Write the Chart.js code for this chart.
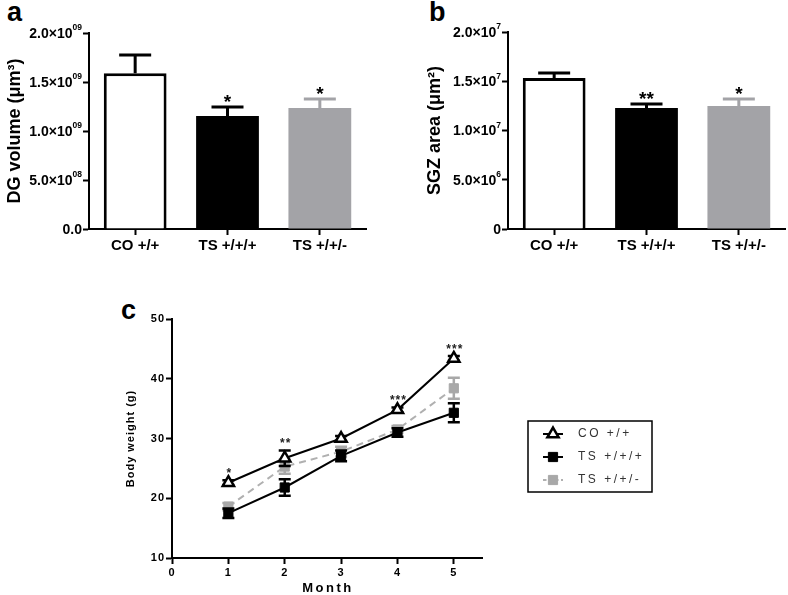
<!DOCTYPE html>
<html><head><meta charset="utf-8">
<script src="https://cdn.jsdelivr.net/npm/chart.js@4/dist/chart.umd.min.js"></script>
<style>
body{margin:0;background:#fff;width:788px;height:595px;position:relative;overflow:hidden;font-family:"Liberation Sans",Arial,sans-serif}
canvas{position:absolute}
.lab{position:absolute;font-family:"Liberation Sans Narrow","Liberation Sans",sans-serif;font-weight:bold;font-size:27px;line-height:27px;color:#000}
</style></head><body>
<div class="lab" style="left:7px;top:-1px">a</div>
<div class="lab" style="left:429px;top:-1px">b</div>
<div class="lab" style="left:121px;top:297px">c</div>
<canvas id="ca" style="left:0;top:0" width="380" height="255"></canvas>
<canvas id="cb" style="left:420px;top:0" width="368" height="255"></canvas>
<canvas id="cc" style="left:120px;top:290px" width="668" height="305"></canvas>
<script>
// ---------- data ----------
const barCategories = ['CO +/+', 'TS +/+/+', 'TS +/+/-'];
const dgVolume = [1.59e9, 1.153e9, 1.235e9];
const dgVolumeSem = [0.186e9, 0.092e9, 0.092e9];
const dgStars = ['', '*', '*'];
const dgTickLabels = ['0.0', '5.0×10⁰⁸', '1.0×10⁰⁹', '1.5×10⁰⁹', '2.0×10⁰⁹'];
const sgzArea = [1.533e7, 1.228e7, 1.249e7];
const sgzAreaSem = [0.051e7, 0.041e7, 0.071e7];
const sgzStars = ['', '**', '*'];
const sgzTickLabels = ['0', '5.0×10⁶', '1.0×10⁷', '1.5×10⁷', '2.0×10⁷'];

const months = [1, 2, 3, 4, 5];
const monthTicks = [0, 1, 2, 3, 4, 5];
const seriesNames = ['CO +/+', 'TS +/+/+', 'TS +/+/-'];
const coWeight = [22.6, 26.7, 30.0, 34.8, 43.4];
const coSem = [0.4, 1.3, 0.4, 0.4, 0.4];
const tsPPPWeight = [17.5, 21.8, 27.1, 31.0, 34.3];
const tsPPPSem = [0.8, 1.4, 0.9, 0.7, 1.6];
const tsPPMWeight = [18.6, 25.3, 27.8, 31.5, 38.4];
const tsPPMSem = [0.6, 1.2, 0.8, 0.6, 1.75];
const weightStars = ['*', '**', '', '***', '***'];

// ---------- styles ----------
const FONT = '"Liberation Sans", Arial, sans-serif';
const GREY = '#a3a3a7';
const barFill = ['#ffffff', '#000000', GREY];
const barLine = ['#000000', '#000000', GREY];
const SUP = '⁰¹²³⁴⁵⁶⁷⁸⁹';

const barErrorPlugin = {
  id: 'barErr',
  afterDatasetsDraw(chart, args, opts) {
    const meta = chart.getDatasetMeta(0);
    const ys = chart.scales.y, ctx = chart.ctx;
    const vals = chart.data.datasets[0].data;
    meta.data.forEach((bar, i) => {
      const v = vals[i], e = opts.sem[i];
      const yTop = ys.getPixelForValue(v + e), yBar = ys.getPixelForValue(v);
      ctx.save();
      ctx.strokeStyle = barLine[i];
      ctx.lineWidth = 3;
      ctx.beginPath();
      ctx.moveTo(bar.x, yBar); ctx.lineTo(bar.x, yTop);
      ctx.moveTo(bar.x - 16, yTop); ctx.lineTo(bar.x + 16, yTop);
      ctx.stroke();
      if (opts.stars[i]) {
        ctx.fillStyle = '#000';
        ctx.font = 'bold 19px ' + FONT;
        ctx.textAlign = 'center';
        ctx.textBaseline = 'alphabetic';
        ctx.fillText(opts.stars[i], bar.x, yTop + 1);
      }
      ctx.restore();
    });
  },
  afterDraw(chart, args, opts) {
    // y tick labels with real superscript exponents
    const ys = chart.scales.y, ctx = chart.ctx;
    const xr = ys.right - 7;
    ctx.save();
    ctx.fillStyle = '#000';
    ctx.textBaseline = 'middle';
    ys.ticks.forEach((t, i) => {
      const label = opts.tickLabels[i];
      const y = ys.getPixelForValue(t.value);
      let base = '', exp = '';
      for (const ch of label) {
        const k = SUP.indexOf(ch);
        if (k >= 0) exp += String(k); else base += ch;
      }
      ctx.font = 'bold 8.5px ' + FONT;
      const ew = exp ? ctx.measureText(exp).width : 0;
      if (exp) { ctx.textAlign = 'left'; ctx.fillText(exp, xr - ew, y - 5); }
      ctx.font = 'bold 14px ' + FONT;
      ctx.textAlign = 'right';
      ctx.fillText(base, xr - ew, y + 1);
    });
    ctx.restore();
  }
};

function barChart(id, values, sem, stars, tickLabels, title, yMax, step, yWidth, padTop, padRight) {
  return new Chart(document.getElementById(id), {
    type: 'bar',
    data: {
      labels: barCategories,
      datasets: [{
        data: values,
        backgroundColor: barFill,
        borderColor: barLine,
        borderWidth: [3, 0, 0],
        categoryPercentage: 1,
        barPercentage: 0.68
      }]
    },
    plugins: [barErrorPlugin],
    options: {
      responsive: false,
      animation: false,
      layout: { padding: { left: 0, top: padTop, right: padRight, bottom: 0 } },
      plugins: {
        legend: { display: false },
        tooltip: { enabled: false },
        barErr: { sem: sem, stars: stars, tickLabels: tickLabels }
      },
      scales: {
        x: {
          type: 'category',
          offset: true,
          afterFit: s => { s.height = 26; },
          grid: { offset: false, drawOnChartArea: false, tickLength: 6, tickWidth: 2, color: '#000' },
          border: { color: '#000', width: 2 },
          ticks: { color: '#000', padding: 2, font: { family: FONT, size: 15, weight: 'bold' } }
        },
        y: {
          min: 0, max: yMax,
          afterFit: s => { s.width = yWidth; },
          grid: { drawOnChartArea: false, tickLength: 6, tickWidth: 2, color: '#000' },
          border: { color: '#000', width: 2 },
          ticks: { stepSize: step, display: false, callback: (v, i) => tickLabels[i] },
          title: { display: true, text: title, color: '#000', padding: 4, font: { family: FONT, size: 18, weight: 'bold' } }
        }
      }
    }
  });
}

barChart('ca', dgVolume, dgVolumeSem, dgStars, dgTickLabels, 'DG volume (μm³)', 2e9, 0.5e9, 89, 33, 14);
barChart('cb', sgzArea, sgzAreaSem, sgzStars, sgzTickLabels, 'SGZ area (μm²)', 2e7, 0.5e7, 88, 32, 3);

// ---------- panel c ----------
const lineColors = ['#000000', '#000000', '#a8a8a8'];
const sems = [coSem, tsPPPSem, tsPPMSem];
const toXY = arr => months.map((m, i) => ({ x: m, y: arr[i] }));

const lineErrPlugin = {
  id: 'lineErr',
  beforeDraw(chart) { chart.ctx.letterSpacing = '1px'; },
  beforeDatasetDraw(chart, args) {
    const i = args.index, meta = args.meta, ctx = chart.ctx, ys = chart.scales.y;
    const vals = chart.data.datasets[i].data;
    ctx.save();
    ctx.strokeStyle = lineColors[i];
    ctx.lineWidth = 2.5;
    meta.data.forEach((pt, k) => {
      const v = vals[k].y, e = sems[i][k];
      const y1 = ys.getPixelForValue(v + e), y2 = ys.getPixelForValue(v - e);
      ctx.beginPath();
      ctx.moveTo(pt.x, y1); ctx.lineTo(pt.x, y2);
      ctx.moveTo(pt.x - 6, y1); ctx.lineTo(pt.x + 6, y1);
      ctx.moveTo(pt.x - 6, y2); ctx.lineTo(pt.x + 6, y2);
      ctx.stroke();
    });
    ctx.restore();
  },
  afterDraw(chart) {
    const ctx = chart.ctx, ys = chart.scales.y, xs = chart.scales.x, ca = chart.chartArea;
    ctx.save();
    // significance stars
    ctx.fillStyle = '#222';
    ctx.font = 'bold 12px ' + FONT;
    ctx.letterSpacing = '1px';
    ctx.textAlign = 'center';
    ctx.textBaseline = 'alphabetic';
    months.forEach((m, k) => {
      if (!weightStars[k]) return;
      ctx.fillText(weightStars[k], xs.getPixelForValue(m) + 1, ys.getPixelForValue(coWeight[k] + coSem[k]) - 3);
    });
    // x axis title
    ctx.fillStyle = '#000';
    ctx.font = 'bold 13px ' + FONT;
    ctx.letterSpacing = '2.5px';
    ctx.textBaseline = 'middle';
    ctx.fillText('Month', (ca.left + ca.right) / 2 + 1, 298);
    // legend
    const lx = 408, ly = 131, lw = 124, lh = 71;
    ctx.strokeStyle = '#000';
    ctx.lineWidth = 1.5;
    ctx.strokeRect(lx, ly, lw, lh);
    chart.data.datasets.forEach((ds, i) => {
      const cy = ly + 13 + i * 23, sx = lx + 15, ex = lx + 35, mx = lx + 25;
      ctx.save();
      ctx.strokeStyle = ds.borderColor;
      ctx.lineWidth = 2;
      if (ds.borderDash) ctx.setLineDash(ds.borderDash.map(d => d / 2));
      ctx.beginPath(); ctx.moveTo(sx, cy); ctx.lineTo(ex, cy); ctx.stroke();
      ctx.setLineDash([]);
      ctx.fillStyle = ds.pointBackgroundColor;
      ctx.strokeStyle = ds.pointBorderColor;
      ctx.lineWidth = ds.pointBorderWidth;
      Chart.helpers.drawPoint(ctx, { pointStyle: ds.pointStyle, radius: ds.pointRadius, borderWidth: ds.pointBorderWidth }, mx, cy);
      ctx.restore();
      ctx.fillStyle = '#333';
      ctx.font = '12px ' + FONT;
      ctx.letterSpacing = '2.5px';
      ctx.textAlign = 'left';
      ctx.textBaseline = 'middle';
      ctx.fillText(ds.label, lx + 50, cy);
    });
    ctx.restore();
  }
};

new Chart(document.getElementById('cc'), {
  type: 'line',
  data: {
    datasets: [
      { label: seriesNames[0], data: toXY(coWeight), borderColor: lineColors[0], borderWidth: 2,
        pointStyle: 'triangle', pointRadius: 6.5, pointBorderWidth: 2.5,
        pointBackgroundColor: '#ffffff', pointBorderColor: '#000000' },
      { label: seriesNames[1], data: toXY(tsPPPWeight), borderColor: lineColors[1], borderWidth: 2,
        pointStyle: 'rect', pointRadius: 6.5, pointBorderWidth: 1,
        pointBackgroundColor: '#000000', pointBorderColor: '#000000' },
      { label: seriesNames[2], data: toXY(tsPPMWeight), borderColor: '#b0b0b0', borderWidth: 2, borderDash: [7, 5],
        pointStyle: 'rect', pointRadius: 6.5, pointBorderWidth: 1,
        pointBackgroundColor: '#a8a8a8', pointBorderColor: '#a8a8a8' }
    ]
  },
  plugins: [lineErrPlugin],
  options: {
    responsive: false,
    animation: false,
    layout: { padding: { left: 0, top: 29, right: 306, bottom: 0 } },
    plugins: { legend: { display: false }, tooltip: { enabled: false } },
    scales: {
      x: {
        type: 'linear', min: 0, max: 5.5,
        afterBuildTicks: s => { s.ticks = monthTicks.map(v => ({ value: v })); },
        afterFit: s => { s.height = 37; },
        grid: { drawOnChartArea: false, tickLength: 6, tickWidth: 2, color: '#000' },
        border: { color: '#000', width: 2 },
        ticks: { color: '#000', padding: 2, font: { family: FONT, size: 11, weight: 'bold' } }
      },
      y: {
        min: 10, max: 50,
        afterFit: s => { s.width = 52; },
        grid: { drawOnChartArea: false, tickLength: 6, tickWidth: 2, color: '#000' },
        border: { color: '#000', width: 2 },
        ticks: { stepSize: 10, color: '#000', padding: 1, font: { family: FONT, size: 11, weight: 'bold' } },
        title: { display: true, text: 'Body weight (g)', color: '#000', padding: 4, font: { family: FONT, size: 11, weight: 'bold' } }
      }
    }
  }
});
</script>
</body></html>
